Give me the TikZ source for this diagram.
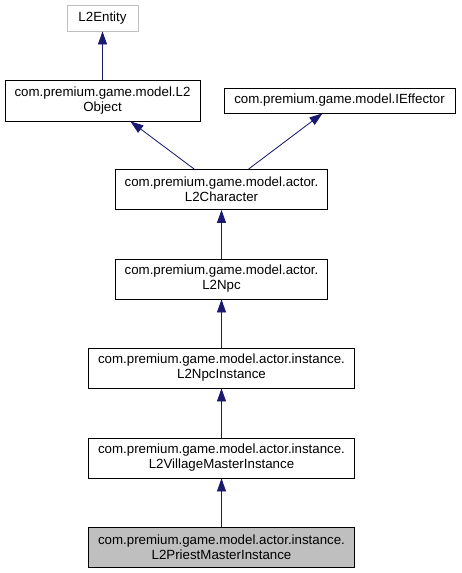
\documentclass[tikz,border=0pt]{standalone}
\usepackage{fontspec}
\setmainfont{Liberation Sans}
\usetikzlibrary{arrows.meta}
\definecolor{edgeblue}{HTML}{191970}
\definecolor{boxgray}{HTML}{BFBFBF}
\tikzset{
  cls/.style={draw=black, line width=0.8pt, fill=white, inner sep=0pt, align=center,
    font=\fontsize{13.3}{15}\selectfont, minimum height=40pt},
  ext/.style={cls, draw=boxgray, minimum height=26pt},
  cur/.style={cls, fill=boxgray},
  inh/.style={draw=edgeblue, line width=0.8pt, -{Triangle[length=13pt,width=9pt]}, fill=edgeblue}
}

\begin{document}
\begin{tikzpicture}[x=1pt, y=-1pt]
        \useasboundingbox (0,0) rectangle (461,573);
        % top row
        \node[ext, minimum width=71pt] (entity) at (102.5,18) {L2Entity};
        \node[cls, minimum width=195pt, minimum height=41pt] (object) at (102.5,100.5) {com.premium.game.model.L2\\Object};
        \node[cls, minimum width=231pt, minimum height=25pt] (effector) at (339.5,100.5) {com.premium.game.model.IEffector};
        % actor
        \node[cls, minimum width=212pt] (character) at (221.5,189.5) {com.premium.game.model.actor.\\L2Character};
        \node[cls, minimum width=212pt] (npc) at (221.5,279) {com.premium.game.model.actor.\\L2Npc};
        % instances
        \node[cls, minimum width=266pt] (npcinst) at (221.5,368) {com.premium.game.model.actor.instance.\\L2NpcInstance};
        \node[cls, minimum width=266pt] (village) at (221.5,458) {com.premium.game.model.actor.instance.\\L2VillageMasterInstance};
        \node[cur, minimum width=266pt] (priest) at (221.5,547) {com.premium.game.model.actor.instance.\\L2PriestMasterInstance};
        % inheritance
        \draw[inh] (object) -- (entity);
        \draw[inh] (character) -- (object);
        \draw[inh] (character) -- (effector);
        \draw[inh] (npc) -- (character);
        \draw[inh] (npcinst) -- (npc);
        \draw[inh] (village) -- (npcinst);
        \draw[inh] (priest) -- (village);
\end{tikzpicture}
\end{document}
